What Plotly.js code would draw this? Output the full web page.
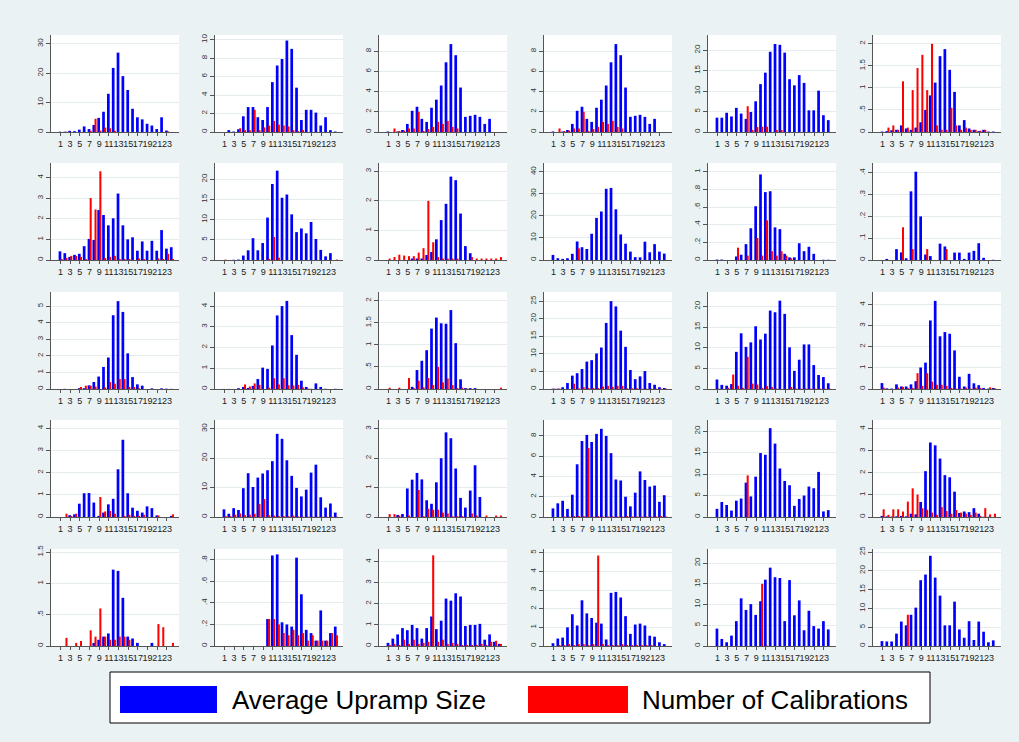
<!DOCTYPE html>
<html><head><meta charset="utf-8">
<script src="https://cdn.plot.ly/plotly-3.0.1.min.js"></script>
<style>html,body{margin:0;padding:0;background:#EAF2F3;}#chart{width:1019px;height:742px;}</style>
</head><body><div id="chart"></div>
<script>
// ---------- DATA ----------
const hours = [1,2,3,4,5,6,7,8,9,10,11,12,13,14,15,16,17,18,19,20,21,22,23,24];
const xTickVals = [1,3,5,7,9,11,13,15,17,19,21,23];
const xTickText = ["1","3","5","7","9","11","13","15","17","19","21","23"];
const legendLabels = ["Average Upramp Size","Number of Calibrations"];

const blue01 = [0.1,0.1,0.4,0.3,0.8,1.9,1.0,2.4,4.8,6.9,13,21.8,27,19,14.3,7.9,5.0,4.3,2.8,2.2,1.0,5.0,0.5,0];
const red01  = [0,0.1,0,0,0,0,0.4,4.5,0.5,1.5,1.3,0.4,0,0,0,0,0,0,0,0,0,0,0.2,0];
const blue02 = [0,0.2,0.05,0.3,1.7,2.7,2.7,1.6,1.3,2.7,5.4,7.2,7.9,9.9,9.0,4.8,1.3,2.4,2.4,2.1,0.7,1.6,0.2,0.05];
const red02  = [0,0,0,0.4,0.2,0.2,2.4,0.2,0.5,0.7,1.2,0.8,0.7,0.6,0.2,0.1,0.2,0,0,0,0,0,0,0];
const blue03 = [0.05,0,0.05,0.2,0.8,2.1,2.5,1.3,1.0,2.4,3.2,4.6,6.9,8.7,7.6,4.4,1.5,1.6,1.7,1.5,0.8,1.3,0,0];
const red03  = [0,0.35,0.1,0.15,0.35,0.35,2.0,0.1,0.3,0.5,1.0,0.8,1.1,0.5,0.35,0,0,0,0,0,0,0,0,0];
const blue04 = [0.05,0,0.05,0.2,0.8,2.1,2.5,1.3,1.0,2.4,3.2,4.6,6.9,8.7,7.6,4.4,1.5,1.6,1.7,1.5,0.8,1.3,0,0];
const red04  = [0,0.35,0.1,0.15,0.35,0.35,2.0,0.1,0.3,0.5,1.0,0.8,1.1,0.5,0.35,0,0,0,0,0,0,0,0,0];
const blue05 = [3.5,3.5,4.7,3.8,5.9,4.5,3.2,4.9,7.5,11.7,14.5,19.6,21.5,21.3,19.4,12.9,11.4,13.9,12.0,5.3,5.3,10.1,4.1,2.9];
const red05  = [0,0,0,0,0,0,6.3,0.5,1.2,1.3,1.3,0,0.5,0.5,0,0,0,0,0,0,0,0,0,0];
const blue06 = [0.01,0.02,0.04,0.05,0.15,0.08,0.05,0.1,0.22,0.5,0.83,1.12,1.72,1.88,1.41,0.91,0.15,0.27,0.08,0.05,0.02,0.05,0.01,0.01];
const red06  = [0,0.1,0.15,0.05,1.15,0.1,0.95,1.45,1.75,0.95,2.0,0.15,0.05,0.05,0.55,0.15,0.05,0.1,0.05,0.05,0.03,0.05,0,0];

const blue07 = [0.42,0.33,0.15,0.25,0.3,0.67,1.02,0.97,2.42,2.18,1.68,2.02,3.22,1.68,1.0,1.1,0.45,0.9,0.45,0.93,0.45,1.45,0.55,0.62];
const red07  = [0.05,0.1,0.2,0.2,0.15,0.05,3.0,2.45,4.3,0.1,0.15,0.2,0.05,0.05,0.05,0,0.08,0.05,0,0,0.08,0.05,0.3,0.05];
const blue08 = [0,0,0.05,0.1,1.1,2.4,5.4,2.4,4.2,10.5,18.8,22.1,15.4,16.2,11.3,6.9,7.8,6.6,9.4,5.2,2.5,0.9,1.7,0];
const red08  = [0.1,0,0,0,0,0,0,0,0,0.3,5.7,0.6,0,0,0,0,0,0,0,0,0,0,0,0.1];
const blue09 = [0,0,0,0,0,0.05,0.05,0.05,0.17,0.27,0.7,1.35,1.9,2.82,2.7,1.57,0.47,0.23,0,0,0,0,0,0];
const red09  = [0.05,0.1,0.18,0.15,0.13,0.13,0.25,0.4,2.0,0.6,0.1,0.05,0.05,0.05,0.05,0,0,0.1,0.05,0.05,0.05,0.05,0.05,0.1];
const blue10 = [2.3,0.8,0.5,0.8,2.8,8.4,5.8,5.0,11.9,19.1,22.0,32.3,32.7,23.0,11.6,7.4,3.8,1.3,1.2,8.3,3.5,7.2,3.8,2.9];
const red10  = [0,0,0,0,0,5.3,0,0,0,0,0,0,0,0,0,0,0,0,0,0,0,0,0,0];
const blue11 = [0.005,0.005,0,0,0.04,0.06,0.18,0.36,0.61,0.97,0.77,0.78,0.37,0.35,0.07,0.03,0.03,0.19,0.1,0.15,0.07,0,0.003,0.003];
const red11  = [0,0,0,0,0.14,0,0.05,0,0.25,0.05,0.45,0.1,0.05,0.1,0.05,0.02,0,0,0,0,0,0,0,0];
const blue12 = [0,0.005,0,0.05,0.035,0.008,0.315,0.405,0.2,0.025,0.018,0,0.075,0.062,0,0.034,0.034,0.005,0.034,0.042,0.077,0.01,0,0.001];
const red12  = [0,0,0,0,0.15,0,0.05,0,0,0.05,0,0,0,0.05,0,0,0,0,0,0,0,0,0,0];

const blue13 = [0,0.01,0,0,0.05,0.05,0.22,0.42,0.75,1.33,1.9,4.45,5.3,4.65,2.15,0.72,0.28,0.2,0,0.04,0,0.04,0.02,0.01];
const red13  = [0,0,0,0,0.12,0.2,0.2,0.15,0,0.1,0.42,0.32,0.6,0.6,0.12,0.12,0.05,0,0,0,0,0,0,0];
const blue14 = [0.005,0.005,0,0.04,0.1,0.05,0.15,0.48,1.03,0.97,2.1,3.55,4.0,4.25,2.6,1.65,0.4,0.1,0.01,0.27,0.1,0.01,0,0.01];
const red14  = [0,0,0,0,0.22,0.12,0.27,0.2,0,0.07,0.52,0.22,0.52,0.18,0.17,0.2,0.07,0.02,0,0,0,0,0,0];
const blue15 = [0,0,0,0,0,0.05,0.43,0.64,0.88,1.37,1.62,1.49,1.48,1.79,1.04,0.22,0.02,0.02,0.02,0,0,0,0,0];
const red15  = [0.03,0,0.03,0,0.25,0.02,0.19,0.04,0.25,0.09,0.5,0.15,0.24,0.09,0.02,0.03,0.01,0,0,0,0,0,0,0.03];
const blue16 = [0.1,0.1,0.5,1.7,3.8,4.5,5.7,7.8,8.2,10.1,11.8,18.8,25.0,23.5,16.6,12.0,5.4,2.8,3.6,5.1,1.7,1.2,0.5,0.3];
const red16  = [0.1,0.1,0,0,1.5,0.2,0.5,0.3,0.3,0.3,0.7,0.9,0.6,0.9,0.9,0.2,0.2,0.2,0.1,0.1,0.1,0.1,0.1,0.1];
const blue17 = [2.3,1.0,0.8,1.2,9.0,13.5,10.2,11.3,15.2,12.0,13.4,19.0,18.6,21.4,18.2,10.1,4.4,7.1,10.8,10.8,5.8,3.4,2.9,1.4];
const red17  = [0.1,0,0.3,3.5,0.8,0.3,7.8,1.3,1.1,0.3,0.7,0.5,0.1,0,0,0.5,0.1,0.1,0.1,0.1,0.1,0.1,0.1,0.1];
const blue18 = [0.28,0.03,0.02,0.22,0.12,0.12,0.22,0.37,1.02,1.25,3.25,4.18,2.5,2.7,2.62,1.83,0.58,0.12,0.72,0.27,0.18,0.05,0.02,0.05];
const red18  = [0.07,0,0,0.07,0.1,0.05,0.05,0.75,0.15,0.75,0.35,0.2,0.2,0.15,0.05,0.02,0.02,0.07,0.02,0.07,0.05,0,0.08,0.03];

const blue19 = [0,0,0.08,0.12,0.6,1.07,1.08,0.65,0.05,0.2,0.57,0.82,2.15,3.48,1.07,0.42,0.28,0.2,0.48,0.4,0.07,0,0,0.05];
const red19  = [0,0.15,0.05,0.15,0,0,0,0,0.9,0.25,0.27,0.15,0,0.05,0.1,0.05,0.05,0.1,0,0,0.07,0,0,0.12];
const blue20 = [2.6,1.1,3.0,2.4,9.8,14.9,10.2,13.4,14.8,15.9,19.0,28.3,26.6,19.3,14.0,9.9,7.0,9.3,15.1,17.8,6.7,3.2,4.6,1.5];
const red20  = [0.3,0.3,0.8,1.2,0.6,0.8,1.1,4.4,6.1,0.6,0.5,0.3,0.3,0.3,0.5,0.2,0.1,0.1,0.1,0.1,0.1,0.1,0.1,0.1];
const blue21 = [0,0,0.07,0.1,0.97,1.27,1.5,1.28,0.57,0.45,1.18,2.0,2.88,2.68,1.65,0.65,0.32,0.9,1.76,0.68,0,0,0,0];
const red21  = [0.1,0.1,0.05,0,0.05,0,0.92,0.03,0.28,0.25,0.25,0.15,0.12,0.02,0.03,0.03,0,0.12,0.05,0,0.05,0,0.05,0.05];
const blue22 = [0.85,1.35,1.6,0.8,2.2,5.2,7.5,8.1,7.4,8.2,8.7,8.0,6.3,3.7,3.6,2.0,1.05,2.4,4.5,3.65,3.0,3.1,1.5,2.15];
const red22  = [0,0,0.05,0.05,0.1,0.1,0.1,6.8,0.05,0.1,0.05,0.05,0.05,0.05,0.05,0.1,0.05,0.05,0.05,0.05,0.05,0.05,0.1,0.05];
const blue23 = [1.9,3.5,2.8,1.5,3.8,4.3,8.0,4.8,9.4,14.9,14.5,20.7,17.1,11.3,8.4,7.4,2.6,4.2,5.0,7.1,6.7,10.5,1.3,1.6];
const red23  = [0,0,0,0,0,0,9.7,0,0,0,0,0,0,0,0,0,0,0,0,0,0,0,0,0];
const blue24 = [0.05,0.03,0.02,0.03,0.05,0.03,0.15,0.12,0.68,2.08,3.38,3.25,2.65,1.9,1.8,1.15,0.18,0.25,0.22,0.4,0.15,0.01,0.01,0];
const red24  = [0.35,0.1,0.35,0.35,0.25,0.7,1.3,1.02,0.4,0.33,0.2,0.1,0.45,0.27,0.15,0.32,0.2,0.15,0.1,0.2,0.05,0.4,0.12,0.15];

const blue25 = [0,0,0,0,0,0,0,0.05,0.1,0.15,0.2,1.22,1.2,0.77,0.15,0.12,0.05,0,0,0.05,0,0,0,0];
const red25  = [0,0.13,0,0.05,0.08,0,0.25,0.15,0.6,0.15,0.1,0.1,0.15,0.15,0.1,0,0,0,0,0,0.35,0.3,0,0.05];
const blue26 = [0,0,0,0,0,0,0,0,0,0.25,0.84,0.85,0.22,0.2,0.18,0.82,0.48,0.15,0.12,0.05,0.33,0.05,0.12,0.18];
const red26  = [0,0,0,0,0,0,0,0,0,0.25,0.25,0.2,0.12,0.1,0.15,0.1,0.12,0.05,0.1,0.05,0.05,0.05,0.12,0.1];
const blue27 = [0.15,0.35,0.55,0.85,0.75,1.0,0.85,0.35,0.85,1.4,0.8,1.2,2.25,2.15,2.5,2.35,0.95,1.0,1.0,1.05,0.3,0.55,0.2,0.1];
const red27  = [0.05,0.1,0.05,0.3,0.1,0.3,0.1,0.15,0.2,4.3,0.2,0.3,0.1,0.15,0.1,0.05,0.05,0.05,0.05,0.1,0.05,0.2,0.25,0.1];
const blue28 = [0.15,0.4,0.45,1.0,1.7,1.1,2.45,1.75,1.5,1.25,1.2,0.35,2.85,2.9,2.6,1.6,0.65,1.15,1.2,1.1,0.55,0.5,0.2,0.1];
const red28  = [0,0.05,0.05,0.1,0.05,0.1,0.1,0.05,0.1,4.85,0.1,0.05,0.05,0.05,0.1,0.05,0.05,0.05,0.05,0.05,0.05,0,0,0];
const blue29 = [4.2,1.7,0.9,2.5,6.0,11.5,8.7,10.1,7.5,10.8,16.0,18.9,16.6,16.4,6.0,15.9,7.4,11.0,3.8,8.5,4.8,4.2,6.0,4.0];
const red29  = [0,0,0,0,0,0,0,0,0,15.0,0.1,0,0,0,0,0,0,0,0,0,0,0,0,0];
const blue30 = [1.3,1.2,1.2,3.3,6.5,5.5,8.3,10.2,17.5,19.0,24.0,18.2,13.4,5.5,5.5,11.8,4.4,2.2,6.6,1.6,6.5,3.8,1.0,1.5];
const red30  = [0,0,0,0,0,8.3,0,0,0,0,0,0,0,0,0,0,0,0,0,0,0,0,0,0];

// y-axis scales per panel (top of range, tick step, highest labelled tick)
const yTop  = [33,10.5,9.6,9.6,23.7,2.2, 4.7,24,3.28,44,1.1,0.445, 5.85,4.68,2.2,27.6,23.5,4.6, 4.37,33,3.3,9.57,22.6,4.4, 1.55,0.9,4.6,5.2,23.4,25.8];
const yStep = [10,2,2,2,5,0.5, 1,5,1,10,0.2,0.1, 1,1,0.5,5,5,1, 1,10,1,2,5,1, 0.5,0.2,1,1,5,5];
const yMaxTick = [30,10,8,8,20,2, 4,20,3,40,1,0.4, 5,4,2,25,20,4, 4,30,3,8,20,4, 1.5,0.8,4,5,20,25];

const blueSeries = [blue01,blue02,blue03,blue04,blue05,blue06,blue07,blue08,blue09,blue10,blue11,blue12,blue13,blue14,blue15,blue16,blue17,blue18,blue19,blue20,blue21,blue22,blue23,blue24,blue25,blue26,blue27,blue28,blue29,blue30];
const redSeries  = [red01,red02,red03,red04,red05,red06,red07,red08,red09,red10,red11,red12,red13,red14,red15,red16,red17,red18,red19,red20,red21,red22,red23,red24,red25,red26,red27,red28,red29,red30];

// ---------- LAYOUT ----------
const W = 1019, H = 742;
const colLeft = [51,215,379,544,708,873], plotW = 128;
const rowTop = [35,163,292,420,549], plotH = 97;
const BLUE = '#0000FF', RED = '#FF0000';
const FONT = 'Arial, "Liberation Sans", sans-serif';

function fmt(v){ let s = String(+v.toFixed(3)); if (s.startsWith('0.')) s = s.slice(1); return s; }

const traces = [];
const layout = {
  width: W, height: H, margin:{l:0,r:0,t:0,b:0},
  paper_bgcolor:'#EAF2F3', plot_bgcolor:'#FFFFFF',
  barmode:'overlay', showlegend:false, font:{family:FONT},
  shapes:[], annotations:[]
};

for (let k = 0; k < 30; k++) {
  const r = Math.floor(k/6), c = k%6;
  const sfx = k === 0 ? '' : String(k+1);
  const xa = 'x'+sfx, ya = 'y'+sfx;
  traces.push({type:'bar', x:hours, y:blueSeries[k], xaxis:xa, yaxis:ya,
    offset:-0.38, width:0.56, marker:{color:BLUE, line:{width:0}}, hoverinfo:'skip'});
  traces.push({type:'bar', x:hours, y:redSeries[k], xaxis:xa, yaxis:ya,
    offset:0.04, width:0.42, marker:{color:RED, line:{width:0}}, hoverinfo:'skip'});
  const tv = [];
  const n = Math.round(yMaxTick[k]/yStep[k]);
  for (let i = 0; i <= n; i++) tv.push(+(i*yStep[k]).toFixed(4));
  const l = colLeft[c], t = rowTop[r];
  layout['xaxis'+sfx] = {domain:[l/W,(l+plotW)/W], anchor:ya, range:[-0.95,25.5],
    tickmode:'array', tickvals:xTickVals, ticktext:xTickText, tickangle:0,
    ticks:'outside', ticklen:3, tickcolor:'#555', tickfont:{size:9,color:'#222',family:FONT},
    showline:true, linecolor:'#555', linewidth:1, showgrid:false, zeroline:false, fixedrange:true};
  layout['yaxis'+sfx] = {domain:[1-(t+plotH)/H, 1-t/H], anchor:xa, range:[0,yTop[k]],
    tickmode:'array', tickvals:tv, ticktext:tv.map(fmt), tickangle:-90,
    ticks:'outside', ticklen:4, tickcolor:'#555', tickfont:{size:8,color:'#333',family:FONT},
    showline:true, linecolor:'#555', linewidth:1, showgrid:true, gridcolor:'#E4ECEE', gridwidth:1,
    zeroline:false, fixedrange:true};
}

// legend box
const px = v => v/W, py = v => 1 - v/H;
layout.shapes.push({type:'rect', xref:'paper', yref:'paper', x0:px(110), x1:px(930), y0:py(723), y1:py(672),
  fillcolor:'#FFFFFF', line:{color:'#000', width:1}});
layout.shapes.push({type:'rect', xref:'paper', yref:'paper', x0:px(120), x1:px(217), y0:py(713), y1:py(686),
  fillcolor:BLUE, line:{width:0}});
layout.shapes.push({type:'rect', xref:'paper', yref:'paper', x0:px(528), x1:px(628), y0:py(713), y1:py(686),
  fillcolor:RED, line:{width:0}});
layout.annotations.push({xref:'paper', yref:'paper', x:px(230), y:py(700), xanchor:'left', yanchor:'middle',
  text:legendLabels[0], showarrow:false, font:{size:26, color:'#000', family:FONT}});
layout.annotations.push({xref:'paper', yref:'paper', x:px(640), y:py(700), xanchor:'left', yanchor:'middle',
  text:legendLabels[1], showarrow:false, font:{size:26, color:'#000', family:FONT}});

Plotly.newPlot('chart', traces, layout, {staticPlot:true, displayModeBar:false});
</script></body></html>
